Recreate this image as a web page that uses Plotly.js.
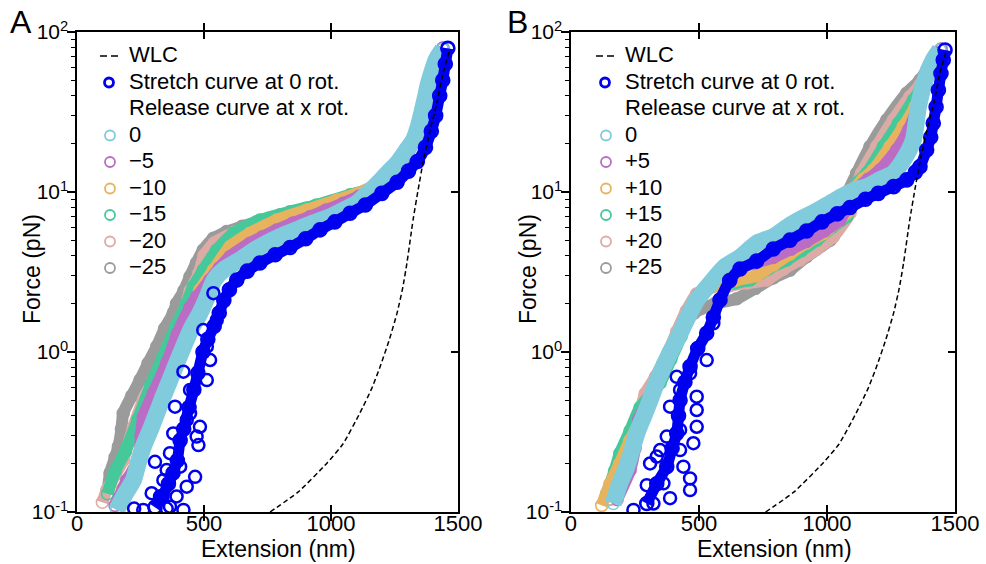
<!DOCTYPE html>
<html><head><meta charset="utf-8">
<script src="https://cdn.plot.ly/plotly-3.0.1.min.js"></script>
<style>html,body{margin:0;padding:0;background:#fff}#chart{width:986px;height:564px}</style>
</head><body><div id="chart"></div>
<script>
// ---------- Panel A (negative rotations) ----------
const aStretchX = [307,335,360,378,395,406,420,441,460,476,496,515,540,560,578,600,629,670,720,780,839,900,957,1015,1075,1135,1200,1260,1305,1340,1372,1395,1412,1428,1440,1450,1460];
const aStretchY = [0.107,0.125,0.15,0.175,0.21,0.28,0.33,0.45,0.58,0.74,1.0,1.2,1.45,1.75,2.1,2.45,2.82,3.2,3.6,4.05,4.5,5.1,5.8,6.5,7.36,8.3,9.8,11.5,13.5,15.5,19,24,30,40,50,63,79];
const aStretchScatX = [225,261,353,294,392,340,307,366,406,465,379,478,484,386,445,419,524,497,537,445,511,432,471,353,432,327,366,419,511,550];
const aStretchScatY = [0.105,0.103,0.105,0.131,0.125,0.158,0.206,0.233,0.192,0.166,0.31,0.262,0.341,0.455,0.414,0.753,0.891,1.37,2.33,0.579,0.668,0.376,0.296,0.183,0.144,0.125,0.108,0.103,1.08,1.58];
const a0X = [156,190,222,240,261,290,314,340,366,392,419,450,484,515,540,580,641,690,746,805,864,930,996,1050,1101,1150,1200,1230,1259,1300,1324,1345,1357,1370,1383,1400,1416,1440];
const a0Y = [0.103,0.13,0.158,0.2,0.256,0.33,0.414,0.53,0.668,0.85,1.08,1.4,1.75,2.25,2.82,3.3,3.76,4.25,4.78,5.3,5.79,6.4,7.0,7.7,8.5,10,12,13.5,15,18.5,21,26,31,38,47,58,68,78];
const a5X = [150,196,242,252,261,300,353,395,445,471,523,560,602,681,730,786,850,917,980,1048,1110,1179,1240,1290,1330,1355,1380,1410,1440];
const a5Y = [0.11,0.158,0.211,0.3,0.394,0.55,0.85,1.3,1.9,2.2,2.82,3.35,3.94,4.78,5.25,5.79,6.4,7.0,7.7,8.5,9.4,10.3,12.5,16,21,30,45,65,79];
const a10X = [180,222,260,300,353,400,440,484,537,602,681,786,904,1022,1140,1220,1280,1320,1350,1378,1408,1440];
const a10Y = [0.14,0.183,0.28,0.4,0.58,0.95,1.5,2.44,3.25,4.55,5.52,6.68,7.72,8.9,10.3,12.5,16,21,30,45,65,79];
const a15X = [120,150,190,240,290,340,390,430,458,497,550,615,720,838,943,1075,1206,1270,1310,1345,1375,1405,1440];
const a15Y = [0.13,0.18,0.24,0.38,0.62,0.95,1.45,2.0,2.56,3.25,4.34,5.52,6.68,7.53,8.3,9.6,11.1,14,19,28,42,62,79];
const a20X = [100,117,150,182,222,261,314,379,420,445,480,500,540,620,720,838,943,1075,1200,1270,1310,1345,1375,1405,1440];
const a20Y = [0.115,0.137,0.17,0.211,0.341,0.5,0.735,1.25,1.8,2.4,3.1,4.0,4.8,5.6,6.5,7.4,8.2,9.5,11,14,19,28,42,62,79];
const a25X = [122,130,150,163,175,182,215,248,280,314,345,379,392,420,445,470,497,537,589,650,707,800,900,1000,1100,1200,1270,1310,1345,1375,1405,1440];
const a25Y = [0.14,0.175,0.22,0.256,0.33,0.414,0.53,0.668,0.85,1.08,1.4,1.75,2.01,2.4,2.96,3.6,4.34,5.13,5.65,6.1,6.5,7.2,7.9,8.7,9.7,11,14,19,28,42,62,79];

// ---------- Panel B (positive rotations) ----------
const bStretchX = [296,335,374,395,413,420,426,445,465,495,530,556,582,620,660,725,790,855,920,980,1040,1090,1150,1200,1260,1311,1345,1363,1389,1405,1415,1426,1435,1445,1454,1461];
const bStretchY = [0.113,0.15,0.192,0.25,0.31,0.4,0.5,0.65,0.81,1.05,1.31,1.65,2.11,2.8,3.3,3.7,4.4,5.0,5.7,6.5,7.3,8.0,9.0,9.8,10.8,11.9,13.3,14.4,18.3,22,26.9,34,43.4,55,66.8,77.2];
const bStretchScatX = [530,465,387,491,478,309,465,296,387,439,348,413,244,491,426,491,335,426,465,361,322,556,426,374];
const bStretchScatY = [0.89,0.735,0.455,0.341,0.269,0.201,0.162,0.147,0.122,0.192,0.244,0.7,0.103,0.526,0.579,0.434,0.222,0.244,0.137,0.151,0.113,1.51,0.326,0.296];
const b0X = [165,190,218,240,257,285,309,335,361,395,426,460,491,545,600,660,725,790,855,900,960,1012,1060,1110,1155,1210,1259,1300,1337,1357,1383,1415,1441];
const b0Y = [0.113,0.15,0.192,0.25,0.31,0.4,0.5,0.65,0.81,1.05,1.31,1.7,2.11,2.7,3.4,3.9,4.78,5.26,6.2,6.8,7.6,8.5,9.4,10.3,10.8,12,13.1,16,21.1,34.1,50.1,66.8,77.2];
const b5X = [180,231,250,265,300,340,380,420,460,500,560,640,720,790,860,920,990,1051,1085,1116,1160,1207,1272,1318,1350,1370,1395,1420,1445];
const b5Y = [0.12,0.183,0.25,0.38,0.5,0.7,0.95,1.3,1.8,2.3,2.9,3.3,3.6,3.9,4.4,4.9,5.7,6.7,8.5,10.5,12,13.7,18.3,24.4,32.5,40,55,68,78];
const b10X = [120,152,190,230,270,320,360,400,440,480,520,560,640,725,790,855,920,986,1040,1077,1103,1140,1181,1246,1298,1344,1363,1390,1415,1445];
const b10Y = [0.11,0.15,0.2,0.28,0.37,0.55,0.75,1.05,1.45,1.95,2.5,2.6,2.8,3.0,3.5,4.1,4.8,5.5,6.5,7.4,10.3,12,13.7,19.2,25.6,34.1,39.4,52,67,78];
const b15X = [139,170,191,230,270,348,390,430,470,510,560,640,699,770,842,900,960,1020,1077,1100,1120,1155,1220,1279,1337,1363,1390,1415,1445];
const b15Y = [0.13,0.18,0.233,0.32,0.45,0.64,0.9,1.25,1.75,2.3,2.6,2.7,2.82,3.3,3.76,4.3,5.0,6.0,7.0,9.0,11.5,13.1,19.2,26.9,37.6,43.4,55,67,78];
const b20X = [150,200,250,290,330,380,413,450,490,550,620,690,764,830,894,960,1025,1090,1100,1135,1194,1259,1324,1363,1390,1415,1445];
const b20Y = [0.12,0.2,0.33,0.55,0.7,1.0,1.34,1.8,2.3,2.55,2.6,2.7,2.82,3.3,3.76,4.4,5.26,7.4,9.5,13.1,19.2,28.2,39.4,46.6,57,67,78];
const b25X = [150,200,250,300,360,420,480,560,647,720,790,855,920,1012,1060,1077,1116,1168,1233,1311,1363,1390,1415,1445];
const b25Y = [0.12,0.2,0.33,0.55,0.85,1.3,1.75,2.0,2.15,2.5,2.9,3.25,3.94,5.0,6.5,9.58,13.1,19.2,28.2,41.4,50.1,58,67,78];

// ---------- WLC model curve ----------
const wlcX = [760,870,984,1047,1114,1160,1193,1230,1260,1282,1299,1323,1343,1362,1390,1417,1441,1466];
const wlcY = [0.1,0.133,0.202,0.266,0.416,0.59,0.806,1.2,1.75,2.5,3.6,6.68,10.3,15.2,24.4,36,55.4,76];

// ---------- Labels ----------
const aRotLabels = ['0','\u22125','\u221210','\u221215','\u221220','\u221225'];
const bRotLabels = ['0','+5','+10','+15','+20','+25'];
const rotColors = ['#80cbdc','#bb6cc4','#e8b35f','#45c99b','#dcaba6','#9b9b9b'];
const stretchColor = '#0000f0';
const legendLabels = ['WLC','Stretch curve at 0 rot.','Release curve at x rot.'];
const panelLetters = ['A','B'];
const xTitle = 'Extension (nm)';
const yTitle = 'Force (pN)';

const FONT = 'Liberation Sans, Arial, Helvetica, sans-serif';
const W = 986, H = 564;

const aSeries = [[a0X,a0Y],[a5X,a5Y],[a10X,a10Y],[a15X,a15Y],[a20X,a20Y],[a25X,a25Y]];
const bSeries = [[b0X,b0Y],[b5X,b5Y],[b10X,b10Y],[b15X,b15Y],[b20X,b20Y],[b25X,b25Y]];

const traces = [];
const shapes = [];
const annotations = [];
function px2x(p) { return p / W; }
function px2y(p) { return 1 - p / H; }

function addPanel(series, labels, sx, sy, scx, scy, xa, ya, ya2, offset, letter) {
  for (let i = series.length - 1; i >= 0; i--) {
    traces.push({x: series[i][0], y: series[i][1], xaxis: xa, yaxis: ya, type: 'scatter',
      mode: 'lines+markers', showlegend: false, hoverinfo: 'skip',
      line: {color: rotColors[i], width: i === 0 ? 17 : 12, shape: 'spline', smoothing: 0.6},
      marker: {symbol: 'circle-open', size: 12, color: rotColors[i], line: {width: 1.6, color: rotColors[i]}}});
  }
  traces.push({x: sx, y: sy, xaxis: xa, yaxis: ya, type: 'scatter', mode: 'lines+markers',
    showlegend: false, hoverinfo: 'skip',
    line: {color: stretchColor, width: 11, shape: 'spline', smoothing: 0.6},
    marker: {symbol: 'circle-open', size: 13, color: stretchColor, line: {width: 2.6, color: stretchColor}}});
  traces.push({x: scx, y: scy, xaxis: xa, yaxis: ya, type: 'scatter', mode: 'markers',
    showlegend: false, hoverinfo: 'skip',
    marker: {symbol: 'circle-open', size: 12, color: stretchColor, line: {width: 2.5, color: stretchColor}}});
  traces.push({x: wlcX, y: wlcY, xaxis: xa, yaxis: ya, type: 'scatter', mode: 'lines',
    showlegend: false, hoverinfo: 'skip',
    line: {color: '#000', width: 1.5, dash: '5px,3px', shape: 'spline', smoothing: 0.5}});
  traces.push({x: [null], y: [null], xaxis: xa, yaxis: ya2, type: 'scatter', mode: 'markers', showlegend: false, hoverinfo: 'skip'});

  // hand-made legend (tight line spacing like the original)
  const symX = 109 + offset, txtX = 127 + offset, y0 = 55, dy = 26.5;
  const entries = legendLabels.concat(labels);
  entries.forEach((t, k) => {
    annotations.push({text: t, xref: 'paper', yref: 'paper', x: px2x(txtX), y: px2y(y0 + k * dy),
      xanchor: 'left', yanchor: 'middle', showarrow: false, font: {family: FONT, size: 22, color: '#000'}});
  });
  shapes.push({type: 'line', xref: 'paper', yref: 'paper', x0: px2x(symX - 9), x1: px2x(symX + 9),
    y0: px2y(y0 + 1), y1: px2y(y0 + 1), line: {color: '#000', width: 1.6, dash: '7px,4px'}});
  const r1 = 4.5;
  shapes.push({type: 'circle', xref: 'paper', yref: 'paper', x0: px2x(symX - r1), x1: px2x(symX + r1),
    y0: px2y(y0 + dy + r1 + 1), y1: px2y(y0 + dy - r1 + 1), line: {color: stretchColor, width: 2.8}});
  const r2 = 5;
  labels.forEach((t, i) => {
    const cy = y0 + (3 + i) * dy + 1;
    shapes.push({type: 'circle', xref: 'paper', yref: 'paper', x0: px2x(symX + 1 - r2), x1: px2x(symX + 1 + r2),
      y0: px2y(cy + r2), y1: px2y(cy - r2), line: {color: rotColors[i], width: 1.8}});
  });
  annotations.push({text: yTitle, xref: 'paper', yref: 'paper', x: px2x(32 + offset), y: px2y(269),
    xanchor: 'center', yanchor: 'middle', textangle: -90, showarrow: false, font: {family: FONT, size: 23, color: '#000'}});
  annotations.push({text: xTitle, xref: 'paper', yref: 'paper', x: px2x(278 + offset), y: px2y(549),
    xanchor: 'center', yanchor: 'middle', showarrow: false, font: {family: FONT, size: 23, color: '#000'}});
  annotations.push({text: letter, xref: 'paper', yref: 'paper', x: px2x(21 + offset), y: px2y(22),
    xanchor: 'center', yanchor: 'middle', showarrow: false, font: {family: FONT, size: 32, color: '#000'}});
}
addPanel(aSeries, aRotLabels, aStretchX, aStretchY, aStretchScatX, aStretchScatY, 'x', 'y', 'y3', 0, panelLetters[0]);
addPanel(bSeries, bRotLabels, bStretchX, bStretchY, bStretchScatX, bStretchScatY, 'x2', 'y2', 'y4', 496, panelLetters[1]);

const yDom = [0.0922, 0.9433];
function xAxis(dom, anchor) {
  return {domain: dom, anchor: anchor, range: [0, 1500], tickvals: [0, 500, 1000, 1500], ticktext: ['0','500','1000','1500'],
    ticks: 'inside', ticklen: 7, tickwidth: 1.5, tickcolor: '#000', mirror: 'allticks', showline: true,
    linewidth: 1.6, linecolor: '#000', showgrid: false, zeroline: false, ticklabelstandoff: -9,
    tickfont: {family: FONT, size: 22, color: '#000'}};
}
const minorVals = [0.2,0.3,0.4,0.5,0.6,0.7,0.8,0.9,2,3,4,5,6,7,8,9,20,30,40,50,60,70,80,90];
function yAxis(anchor) {
  return {domain: yDom, anchor: anchor, type: 'log', range: [-1, 2], tickvals: [0.1, 1, 10, 100],
    ticktext: ['10<sup>-1</sup>', '10<sup>0</sup>', '10<sup>1</sup>', '10<sup>2</sup>'],
    ticks: 'outside', ticklen: 8, tickwidth: 1.5, tickcolor: '#000', showline: true, linewidth: 1.6, linecolor: '#000',
    mirror: false, showgrid: false, zeroline: false, ticklabelstandoff: -5,
    minor: {tickmode: 'array', tickvals: minorVals, ticks: 'outside', ticklen: 4, tickwidth: 1, tickcolor: '#000', showgrid: false},
    tickfont: {family: FONT, size: 21, color: '#000'}};
}
function yRight(over, anchor) {
  return {overlaying: over, anchor: anchor, side: 'right', type: 'log', range: [-1, 2], tickvals: [0.1, 1, 10, 100],
    ticks: 'inside', ticklen: 7, tickwidth: 1.5, tickcolor: '#000', showticklabels: false, showline: true,
    linewidth: 1.6, linecolor: '#000', showgrid: false, zeroline: false};
}

const layout = {
  width: W, height: H, margin: {l: 0, r: 0, t: 0, b: 0}, paper_bgcolor: '#fff', plot_bgcolor: '#fff',
  font: {family: FONT, color: '#000'}, showlegend: false,
  xaxis: xAxis([0.0781, 0.4645], 'y'),
  yaxis: yAxis('x'),
  xaxis2: xAxis([0.5791, 0.9686], 'y2'),
  yaxis2: yAxis('x2'),
  yaxis3: yRight('y', 'x'),
  yaxis4: yRight('y2', 'x2'),
  shapes: shapes,
  annotations: annotations
};
Plotly.newPlot('chart', traces, layout, {staticPlot: true, displayModeBar: false});
</script></body></html>
